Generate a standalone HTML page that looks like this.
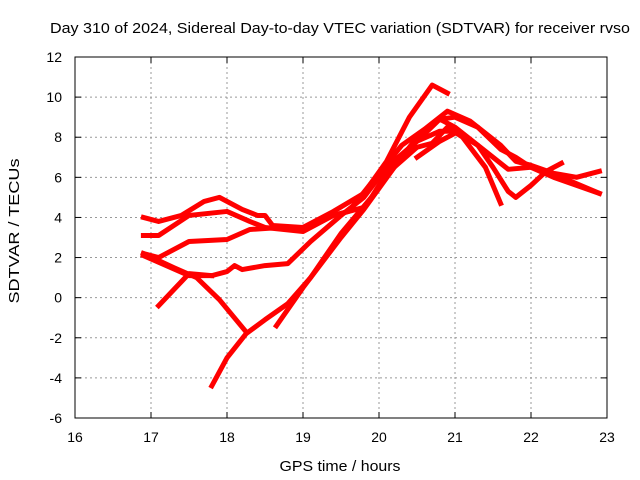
<!DOCTYPE html>
<html><head><meta charset="utf-8"><style>
body{margin:0;background:#fff;}
svg{display:block;font-family:"Liberation Sans",sans-serif;}
</style></head><body>
<svg id="c" width="640" height="480">
<text x="340" y="33" text-anchor="middle" font-size="15" textLength="580" lengthAdjust="spacingAndGlyphs">Day 310 of 2024, Sidereal Day-to-day VTEC variation (SDTVAR) for receiver rvso</text>
<text x="340" y="471" text-anchor="middle" font-size="15" textLength="121" lengthAdjust="spacingAndGlyphs">GPS time / hours</text>
<text transform="translate(19,231) rotate(-90)" text-anchor="middle" font-size="15" textLength="145" lengthAdjust="spacingAndGlyphs">SDTVAR / TECUs</text>
<g id="grid"></g><g id="series"></g>
<rect x="75" y="57" width="532" height="361" fill="none" stroke="#000" stroke-width="1"/>
</svg>
<script>
const xTicks=[16,17,18,19,20,21,22,23];
const yTicks=[-6,-4,-2,0,2,4,6,8,10,12];
const s1=[[16.9,4.0],[17.1,3.8],[17.4,4.1],[17.7,4.8],[17.9,5.0],[18.2,4.4],[18.4,4.1],[18.5,4.1],[18.6,3.6],[19.0,3.5],[19.4,4.3],[19.8,5.2],[20.1,6.8],[20.4,9.0],[20.7,10.6],[20.9,10.2]];
const s2=[[16.9,3.1],[17.1,3.1],[17.5,4.1],[18.0,4.3],[18.3,3.8],[18.5,3.5],[19.0,3.3],[19.4,4.1],[19.8,4.5],[20.2,6.5],[20.5,8.0],[20.8,8.9],[21.0,9.0],[21.3,8.5],[21.6,7.4],[21.8,7.0],[22.0,6.5],[22.3,6.0],[22.6,5.6],[22.9,5.2]];
const s3=[[16.9,2.2],[17.1,2.0],[17.5,2.8],[18.0,2.9],[18.3,3.4],[18.7,3.5],[19.0,3.5],[19.3,4.0],[19.6,4.3],[20.0,6.2],[20.3,7.6],[20.6,8.4],[20.9,9.3],[21.2,8.8],[21.6,7.6],[21.8,6.8],[22.0,6.6],[22.3,6.2],[22.6,6.0],[22.9,6.3]];
const s4=[[16.9,2.1],[17.2,1.6],[17.5,1.1],[17.8,1.1],[18.0,1.3],[18.1,1.6],[18.2,1.4],[18.5,1.6],[18.8,1.7],[19.1,2.8],[19.5,4.1],[19.8,5.0],[20.1,6.5],[20.5,7.8],[20.8,8.3],[21.0,8.3],[21.3,7.6],[21.5,6.5],[21.7,5.3],[21.8,5.0],[22.0,5.6],[22.2,6.3],[22.4,6.7]];
const s5=[[17.1,-0.4],[17.3,0.4],[17.5,1.2],[17.8,1.1]];
const s6=[[16.9,2.2],[17.3,1.5],[17.6,1.0],[17.9,-0.1],[18.25,-1.7]];
const s7=[[17.8,-4.4],[18.0,-3.0],[18.25,-1.8],[18.5,-1.1],[18.8,-0.3],[19.1,1.0],[19.5,3.2],[19.9,5.0],[20.2,6.8],[20.5,7.8],[20.8,8.9],[21.0,8.5],[21.4,7.3],[21.7,6.4],[22.0,6.5],[22.4,6.0],[22.9,5.2]];
const s8=[[18.65,-1.4],[19.0,0.5],[19.5,3.0],[19.8,4.4],[20.2,6.5],[20.5,7.5],[20.7,7.7],[20.9,8.5],[21.1,8.0],[21.4,6.5],[21.6,4.7]];
const s9=[[20.5,7.0],[20.8,7.8],[21.0,8.2]];
const seriesList=[s1,s2,s3,s4,s5,s6,s7,s8,s9];
const X=v=>75+(v-16)*76, Y=v=>418-(v+6)*(361/18);
const NS="http://www.w3.org/2000/svg";
const g=document.getElementById('grid'), sg=document.getElementById('series');
function mk(tag,at,par){const e=document.createElementNS(NS,tag);for(const k in at)e.setAttribute(k,at[k]);par.appendChild(e);return e;}
xTicks.forEach(t=>{
 const l=mk('line',{x1:X(t),x2:X(t),y1:57,y2:418,stroke:'#999','stroke-dasharray':'2,3'},g);
 
 
 mk('line',{x1:X(t),x2:X(t),y1:418,y2:412,stroke:'#000'},g);
 mk('line',{x1:X(t),x2:X(t),y1:57,y2:63,stroke:'#000'},g);
 const tx=mk('text',{x:X(t),y:442,'text-anchor':'middle','font-size':14},g);tx.textContent=t;
 
 
});
yTicks.forEach(t=>{
 const l=mk('line',{x1:75,x2:607,y1:Y(t),y2:Y(t),stroke:'#999','stroke-dasharray':'2,3'},g);
 
 
 mk('line',{x1:75,x2:81,y1:Y(t),y2:Y(t),stroke:'#000'},g);
 mk('line',{x1:601,x2:607,y1:Y(t),y2:Y(t),stroke:'#000'},g);
 const tx=mk('text',{x:62,y:Y(t)+5,'text-anchor':'end','font-size':14},g);tx.textContent=t;
 
 
});
seriesList.forEach((s,i)=>{
 const p=mk('polyline',{points:s.map(d=>X(d[0])+','+Y(d[1])).join(' '),fill:'none',stroke:'#f00','stroke-width':5,'stroke-linejoin':'round','stroke-linecap':'square'},sg);
 
 
});
</script>
</body></html>
